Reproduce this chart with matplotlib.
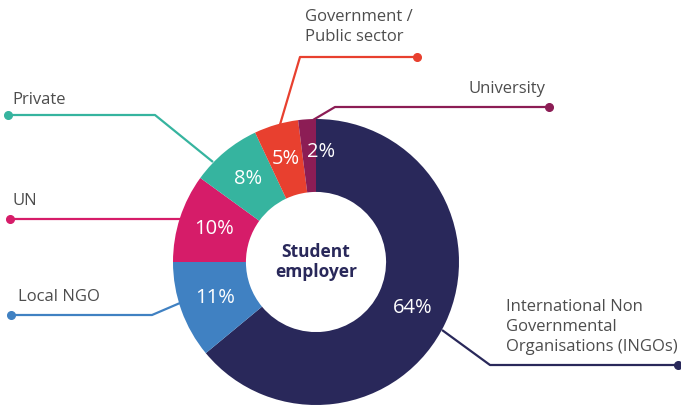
import matplotlib
matplotlib.use("Agg")
import matplotlib.pyplot as plt

# data
labels = ["International Non\nGovernmental\nOrganisations (INGOs)", "Local NGO", "UN",
          "Private", "Government /\nPublic sector", "University"]
values = [64, 11, 10, 8, 5, 2]
colors = ["#29285a", "#4081c2", "#d61c69", "#36b49f", "#e8402f", "#8c1d55"]

plt.rcParams['font.family'] = ['Open Sans', 'DejaVu Sans']
grey = "#4d4d4d"

fig = plt.figure(figsize=(6.81, 4.05), dpi=100)
ax = fig.add_axes([0, 0, 1, 1])

# pixel coordinates, y pointing down -> flip the pie direction
cx, cy, R = 316, 262, 143
wedges, texts, autotexts = ax.pie(
    values, colors=colors, center=(cx, cy), radius=R,
    startangle=-90, counterclock=True,
    autopct=lambda p: "%d%%" % round(p), pctdistance=0.75,
    wedgeprops=dict(width=R * 0.51, linewidth=0),
    textprops=dict(color="white", fontsize=14.5))
ax.set_xlim(0, 681)
ax.set_ylim(405, 0)
ax.set_aspect("equal")
ax.axis("off")

# small nudge for the thin university slice
x, y = autotexts[5].get_position()
autotexts[5].set_position((x + 12, y - 3))

ax.text(cx, cy, "Student\nemployer", ha="center", va="center", fontsize=12.5,
        fontweight="bold", color="#29285a", linespacing=1.1)

# leader lines, last point gets the dot
leaders = [
    [(442, 330), (490, 365), (678, 365)],   # INGO
    [(180, 303), (152, 315), (11, 315)],    # Local NGO
    [(180, 219), (10, 219)],                # UN
    [(213, 162), (155, 115), (8, 115)],     # Private
    [(279, 128), (300, 57), (417, 57)],     # Government
    [(313, 120), (335, 107), (549, 107)],   # University
]
for pts, c in zip(leaders, colors):
    xs = [p[0] for p in pts]
    ys = [p[1] for p in pts]
    ax.plot(xs, ys, color=c, lw=1.6, solid_capstyle="butt", zorder=0)
    ax.plot(xs[-1], ys[-1], "o", color=c, ms=5.5, zorder=0)

lab_kw = dict(fontsize=12, color=grey, linespacing=1.3)
ax.text(506, 327, labels[0], ha="left", va="center", **lab_kw)
ax.text(18, 297, labels[1], ha="left", va="center", **lab_kw)
ax.text(12, 201, labels[2], ha="left", va="center", **lab_kw)
ax.text(12, 100, labels[3], ha="left", va="center", **lab_kw)
ax.text(305, 27, labels[4], ha="left", va="center", **lab_kw)
ax.text(545, 89, labels[5], ha="right", va="center", **lab_kw)

fig.savefig("out.png", dpi=100)
